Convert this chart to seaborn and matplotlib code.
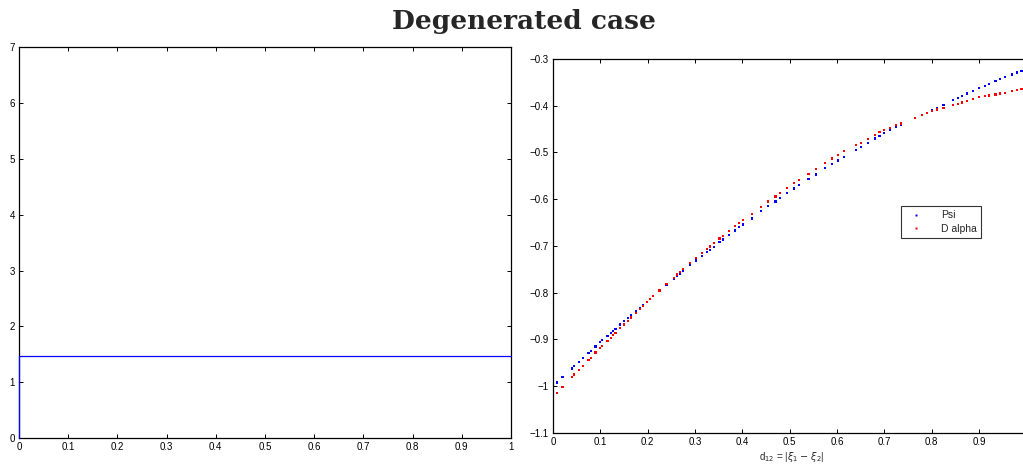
import matplotlib
matplotlib.use('Agg')
import matplotlib.pyplot as plt
import numpy as np
import pandas as pd
import seaborn as sns

sns.set_style('ticks')
plt.rcParams['font.family'] = ['Liberation Sans', 'DejaVu Sans']
plt.rcParams['xtick.direction'] = 'in'
plt.rcParams['ytick.direction'] = 'in'

# left panel: degenerate step
step_x = [0.0, 0.0, 1.0]
step_y = [0.0, 1.47, 1.47]

# right panel: sampled d12 values and the two series
d12 = [0.000, 0.008, 0.020, 0.040, 0.045, 0.055, 0.063, 0.075, 0.080, 0.090,
       0.100, 0.104, 0.115, 0.122, 0.127, 0.132, 0.142, 0.150, 0.158, 0.165,
       0.175, 0.183, 0.190, 0.198, 0.205, 0.212, 0.225, 0.240, 0.255, 0.262,
       0.268, 0.275, 0.290, 0.302, 0.315, 0.325, 0.332, 0.340, 0.352, 0.360,
       0.372, 0.385, 0.393, 0.402, 0.420, 0.440, 0.455, 0.470, 0.480, 0.495,
       0.510, 0.520, 0.540, 0.555, 0.575, 0.590, 0.602, 0.615, 0.640, 0.650,
       0.665, 0.680, 0.690, 0.700, 0.712, 0.725, 0.735, 0.765, 0.780, 0.790,
       0.800, 0.812, 0.825, 0.845, 0.855, 0.865, 0.875, 0.888, 0.900, 0.912,
       0.922, 0.935, 0.945, 0.955, 0.970, 0.980, 0.990]
psi = [-1.000, -0.992, -0.981, -0.962, -0.957, -0.948, -0.940, -0.929, -0.924, -0.915,
       -0.905, -0.901, -0.892, -0.886, -0.881, -0.877, -0.868, -0.861, -0.854, -0.848,
       -0.839, -0.832, -0.826, -0.819, -0.813, -0.807, -0.796, -0.783, -0.771, -0.765,
       -0.760, -0.754, -0.741, -0.731, -0.721, -0.713, -0.708, -0.702, -0.692, -0.686,
       -0.677, -0.667, -0.660, -0.654, -0.641, -0.626, -0.615, -0.605, -0.597, -0.587,
       -0.577, -0.570, -0.557, -0.547, -0.534, -0.524, -0.517, -0.509, -0.494, -0.488,
       -0.479, -0.470, -0.464, -0.458, -0.452, -0.446, -0.441, -0.427, -0.420, -0.415,
       -0.410, -0.404, -0.398, -0.388, -0.384, -0.379, -0.374, -0.368, -0.362, -0.357,
       -0.353, -0.347, -0.343, -0.339, -0.333, -0.329, -0.325]
d_alpha = [-1.022, -1.014, -1.001, -0.980, -0.975, -0.965, -0.956, -0.944, -0.939, -0.928,
           -0.918, -0.914, -0.903, -0.896, -0.891, -0.886, -0.876, -0.868, -0.860, -0.853,
           -0.843, -0.835, -0.828, -0.820, -0.813, -0.807, -0.795, -0.781, -0.768, -0.761,
           -0.756, -0.750, -0.736, -0.725, -0.715, -0.706, -0.701, -0.694, -0.684, -0.678,
           -0.668, -0.657, -0.651, -0.644, -0.631, -0.616, -0.605, -0.594, -0.587, -0.576,
           -0.565, -0.559, -0.546, -0.536, -0.523, -0.513, -0.505, -0.497, -0.484, -0.479,
           -0.471, -0.463, -0.457, -0.452, -0.447, -0.442, -0.438, -0.426, -0.420, -0.416,
           -0.412, -0.408, -0.405, -0.399, -0.396, -0.393, -0.390, -0.386, -0.382, -0.380,
           -0.378, -0.376, -0.374, -0.372, -0.369, -0.367, -0.364]

df = pd.DataFrame({
    'd12': d12 + d12,
    'value': psi + d_alpha,
    'series': ['Psi'] * len(d12) + ['D alpha'] * len(d12),
})

fig = plt.figure(figsize=(10.23, 4.67), dpi=100)
ax1 = fig.add_axes([19 / 1023, 0.062, 492 / 1023, 0.837])
ax2 = fig.add_axes([553 / 1023, 0.0728, 478 / 1023, 0.8009])

sns.lineplot(x=step_x, y=step_y, sort=False, estimator=None, color='blue',
             linewidth=0.9, ax=ax1, zorder=5, clip_on=False)
ax1.set_xlim(0, 1)
ax1.set_ylim(0, 7)
ax1.set_xticks(np.arange(0, 1.01, 0.1))
ax1.set_xticklabels(['0', '0.1', '0.2', '0.3', '0.4', '0.5', '0.6', '0.7', '0.8', '0.9', '1'])
ax1.set_yticks(range(0, 8))

sns.scatterplot(data=df, x='d12', y='value', hue='series',
                palette={'Psi': 'blue', 'D alpha': 'red'},
                s=2.5, linewidth=0, marker='s', ax=ax2)
ax2.set_xlim(0, 1.01)
ax2.set_ylim(-1.1, -0.3)
ax2.set_xticks(np.arange(0, 0.91, 0.1))
ax2.set_xticklabels(['0', '0.1', '0.2', '0.3', '0.4', '0.5', '0.6', '0.7', '0.8', '0.9'])
ax2.set_yticks(np.arange(-1.1, -0.29, 0.1))
ax2.set_yticklabels(['\u22121.1', '\u22121', '\u22120.9', '\u22120.8', '\u22120.7',
                     '\u22120.6', '\u22120.5', '\u22120.4', '\u22120.3'])
ax2.set_xlabel(r'd$_{12}$ = |$\xi_1$ $-$ $\xi_2$|', fontsize=7, labelpad=2)
ax2.set_ylabel('')

leg = ax2.legend(loc='upper left', bbox_to_anchor=(0.718, 0.62), fontsize=7.5,
                 frameon=True, fancybox=False, edgecolor='black', markerscale=0.9,
                 handletextpad=1.4, borderpad=0.4, labelspacing=0.3)
leg.get_frame().set_linewidth(0.8)

for ax in (ax1, ax2):
    for sp in ax.spines.values():
        sp.set_visible(True)
        sp.set_color('black')
        sp.set_linewidth(0.9)
    ax.tick_params(axis='both', labelsize=7, length=3, width=0.7, pad=3,
                   top=True, right=True, colors='black')

ax1.set_xlabel('')
ax1.set_ylabel('')

fig.text(0.512, 0.955, 'Degenerated case', ha='center', va='center',
         fontsize=19, fontweight='bold', family='DejaVu Serif')

fig.savefig('out.png', dpi=100)
